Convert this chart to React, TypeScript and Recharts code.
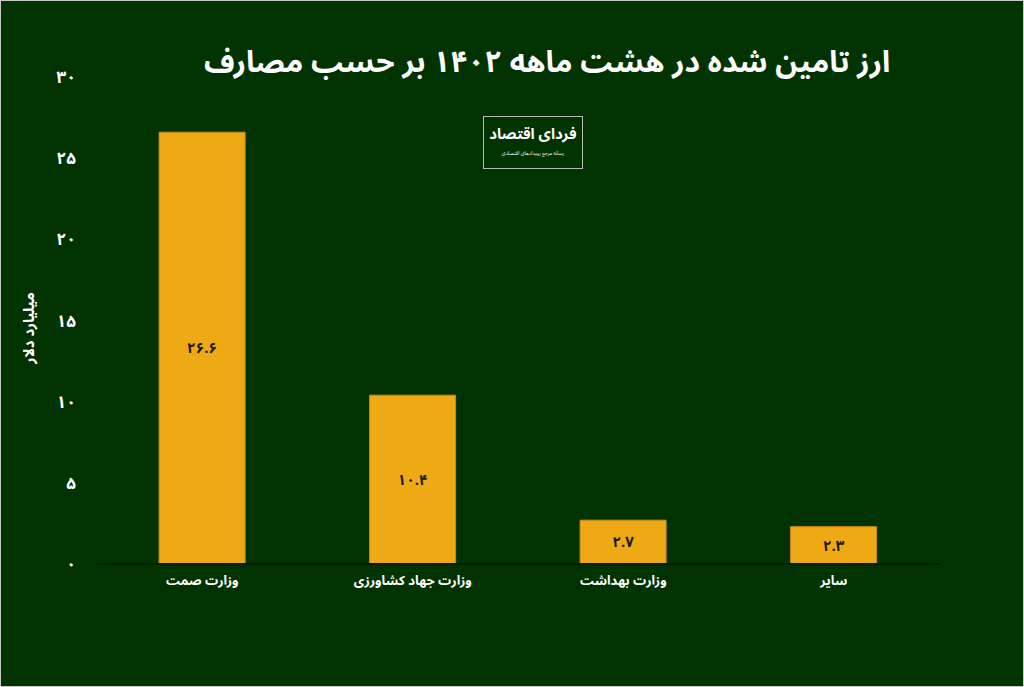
import { BarChart, Bar, XAxis, YAxis, LabelList } from 'recharts';

const CATEGORIES = ['وزارت صمت', 'وزارت جهاد کشاورزی', 'وزارت بهداشت', 'سایر'];
const VALUES = [26.6, 10.4, 2.7, 2.3];
const Y_TICKS = [0, 5, 10, 15, 20, 25, 30];

const TITLE = 'ارز تامین شده در هشت ماهه ۱۴۰۲ بر حسب مصارف';
const Y_LABEL = 'میلیارد دلار';

const FONT = "'Noto Sans Arabic', 'Vazirmatn', 'DejaVu Sans', sans-serif";
const BG = '#013301';
const BAR = '#EFA914';

const data = CATEGORIES.map((name, i) => ({ name, value: VALUES[i] }));

// latin digits -> persian digits
const fa = (v: number | string) =>
  String(v).replace(/[0-9]/g, (d) => '۰۱۲۳۴۵۶۷۸۹'[Number(d)]);

export default function App() {
  return (
    <div
      style={{
        position: 'absolute',
        left: 0,
        top: 0,
        width: 1024,
        height: 687,
        background: BG,
        border: '1px solid #c9c9c9',
        boxSizing: 'border-box',
        overflow: 'hidden',
        fontFamily: FONT,
      }}
    >
      <div
        style={{
          position: 'absolute',
          left: 0,
          width: 1092,
          top: 37,
          textAlign: 'center',
          color: '#fff',
          fontSize: 30,
          fontWeight: 700,
          direction: 'rtl',
          lineHeight: '50px',
          whiteSpace: 'nowrap',
        }}
      >
        {TITLE}
      </div>

      {/* logo */}
      <div
        style={{
          position: 'absolute',
          left: 482,
          top: 115,
          width: 100,
          height: 53,
          border: '1px solid #b9b9b9',
          boxSizing: 'border-box',
          color: '#fff',
          textAlign: 'center',
          direction: 'rtl',
          whiteSpace: 'nowrap',
        }}
      >
        <div style={{ fontSize: 15, fontWeight: 700, lineHeight: '20px', marginTop: 7 }}>فردای اقتصاد</div>
        <div style={{ fontSize: 5, lineHeight: '7px', marginTop: 6 }}>رسانه مرجع رویدادهای اقتصادی</div>
      </div>

      <div
        style={{
          position: 'absolute',
          left: 28,
          top: 327,
          transform: 'translate(-50%, -50%) rotate(-90deg)',
          color: '#fff',
          fontSize: 15,
          fontWeight: 700,
          whiteSpace: 'nowrap',
          direction: 'rtl',
        }}
      >
        {Y_LABEL}
      </div>

      <BarChart
        width={1024}
        height={687}
        data={data}
        margin={{ top: 76, right: 86, bottom: 84, left: 0 }}
        barCategoryGap="29.5%"
        style={{ position: 'absolute', left: 0, top: 0 }}
      >
        <XAxis
          dataKey="name"
          axisLine={{ stroke: '#012001', strokeWidth: 2 }}
          tickLine={false}
          tickSize={0}
          tickMargin={12}
          height={40}
          tick={{ fill: '#fff', fontSize: 13, fontWeight: 700, fontFamily: FONT }}
        />
        <YAxis
          domain={[0, 30]}
          ticks={Y_TICKS}
          width={96}
          axisLine={false}
          tickLine={false}
          tickSize={0}
          tickMargin={21}
          tickFormatter={fa}
          tick={{ fill: '#fff', fontSize: 17, fontWeight: 700, fontFamily: FONT }}
        />
        <Bar dataKey="value" fill={BAR} stroke="#c98d10" strokeWidth={1} isAnimationActive={false}>
          <LabelList
            dataKey="value"
            position="center"
            formatter={(v: any) => fa(v)}
            style={{ fill: '#1a1a1a', fontSize: 15, fontWeight: 700, fontFamily: FONT }}
          />
        </Bar>
      </BarChart>
    </div>
  );
}
